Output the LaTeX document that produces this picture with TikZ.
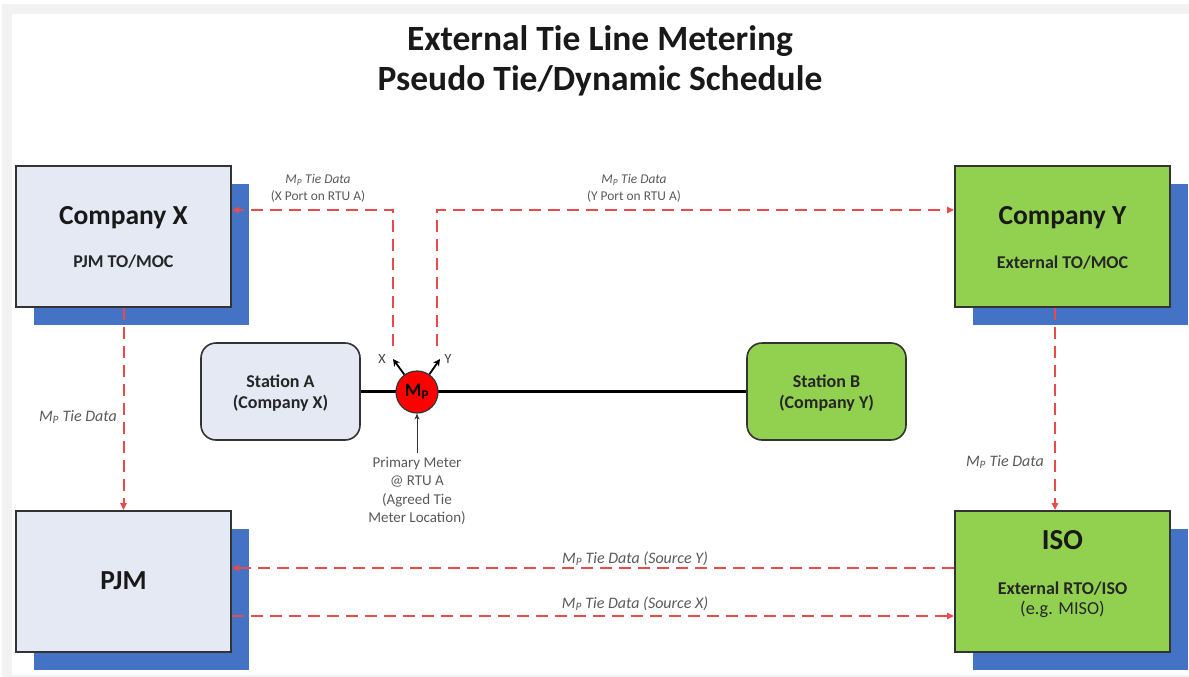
\documentclass[tikz,border=0pt]{standalone}
\usepackage{fontspec}
\setmainfont{Carlito}
\usetikzlibrary{arrows.meta,shadows}
\definecolor{lightbox}{HTML}{E4E9F4}
\definecolor{greenbox}{HTML}{92D050}
\definecolor{shblue}{HTML}{4472C4}
\definecolor{edgegray}{HTML}{333333}
\definecolor{dashred}{HTML}{E94A4A}
\definecolor{labgray}{HTML}{5A5A5A}
\definecolor{framegray}{HTML}{F2F2F2}
\newcommand\MPsub{M\textsubscript{P}}
\begin{document}
\begin{tikzpicture}[x=1pt,y=-1pt,
  bigbox/.style={draw=edgegray, line width=1.6pt, minimum width=215pt, minimum height=141pt, inner sep=0pt,
    drop shadow={shadow xshift=18pt, shadow yshift=-18pt, fill=shblue, opacity=1}},
  stationbox/.style={draw=edgegray, line width=1.6pt, rounded corners=15pt, minimum width=159pt, minimum height=97pt, inner sep=0pt},
  boxtitle/.style={anchor=base, inner sep=0pt, font=\bfseries\fontsize{27.5}{32}\selectfont, text=black!90},
  boxsub/.style={anchor=base, inner sep=0pt, font=\bfseries\fontsize{18}{21}\selectfont, text=black!85},
  stationtxt/.style={anchor=base, inner sep=0pt, font=\bfseries\fontsize{18}{21}\selectfont, text=black!85},
  dl/.style={draw=dashred, line width=2pt, dash pattern=on 12pt off 7pt},
  rtip/.style={-{Triangle[length=7pt,width=6pt]}},
  toplab/.style={align=center, inner sep=0pt, anchor=base, font=\fontsize{13.4}{17}\selectfont, text=labgray},
  sidelab/.style={inner sep=0pt, font=\itshape\fontsize{16}{19}\selectfont, text=labgray}
]
\useasboundingbox (0,0) rectangle (1189,677);
\fill[framegray] (2,4) rectangle (1189,677);
\fill[white] (12,14) rectangle (1189,675);

% title
\node[anchor=base, inner sep=0pt, font=\bfseries\fontsize{35.5}{40}\selectfont, text=black!90] (t1) at (600,51) {External Tie Line Metering};
\node[anchor=base, inner sep=0pt, font=\bfseries\fontsize{35.5}{40}\selectfont, text=black!90] (t2) at (600,90) {Pseudo Tie/Dynamic Schedule};

% big boxes
\node[bigbox, fill=lightbox] (cx) at (123.5,236.5) {};
\node[bigbox, fill=greenbox] (cy) at (1062.5,236.5) {};
\node[bigbox, fill=lightbox] (pjm) at (123.5,581.5) {};
\node[bigbox, fill=greenbox] (iso) at (1062.5,581.5) {};

\node[boxtitle] (cxt) at (123.5,224) {Company X};
\node[boxsub] (cxs) at (123.5,267) {PJM TO/MOC};
\node[boxtitle] (cyt) at (1062.5,224) {Company Y};
\node[boxsub] (cys) at (1062.5,268) {External TO/MOC};
\node[boxtitle] (pjmt) at (123.5,589) {PJM};
\node[boxtitle, font=\bfseries\fontsize{29}{34}\selectfont] (isot) at (1062.5,549) {ISO};
\node[boxsub] (isos) at (1062.5,594) {External RTO/ISO};
\node[boxsub, font=\fontsize{18.3}{21}\selectfont] (isoe) at (1062.5,614) {(e.g. MISO)};

% stations
\node[stationbox, fill=lightbox] (sa) at (280.5,391.5) {};
\node[stationbox, fill=greenbox] (sb) at (826.5,391.5) {};
\node[stationtxt] (sat1) at (280.5,387) {Station A};
\node[stationtxt] (sat2) at (280.5,408) {(Company X)};
\node[stationtxt] (sbt1) at (826.5,387) {Station B};
\node[stationtxt] (sbt2) at (826.5,408) {(Company Y)};

% tie line
\draw[line width=3pt, black] (sa.east) -- (sb.west);

% meter
\node[circle, fill=red, draw=edgegray, line width=1.2pt, minimum size=42pt, inner sep=0pt,
      font=\bfseries\fontsize{19}{21}\selectfont] (mp) at (417,392) {\MPsub};
\coordinate (xt) at (393,359);
\coordinate (yt) at (440,359);
\draw[line width=1.8pt, -{Stealth[length=7pt,width=7pt]}] (mp.126) -- (xt);
\draw[line width=1.8pt, -{Stealth[length=7pt,width=7pt]}] (mp.55) -- (yt);
\node[inner sep=0pt, anchor=base, font=\fontsize{14}{16}\selectfont, text=black!75] (xl) at (382,363) {X};
\node[inner sep=0pt, anchor=base, font=\fontsize{14}{16}\selectfont, text=black!75] (yl) at (448,363) {Y};

\node[align=center, inner sep=0pt, anchor=north, font=\fontsize{15}{18.3}\selectfont, text=labgray] (pmt) at (417,457)
  {Primary Meter\\@ RTU A\\(Agreed Tie\\Meter Location)};
\draw[line width=1pt, draw=black!80, -{Stealth[length=6pt,width=5pt]}] ([yshift=4pt]pmt.north) -- (mp.south);

% port data lines
\coordinate (xup) at (393,346);
\coordinate (xc) at (393,210);
\coordinate (yup) at (437,346);
\coordinate (yc) at (437,210);
\draw[dl, rtip] (xup) -- (xc) -- (xc -| cx.east);
\draw[dl, rtip] (yup) -- (yc) -- (yc -| cy.west);
\node[toplab] (xlab) at (318,200) {\itshape \MPsub{} Tie Data\\(X Port on RTU A)};
\node[toplab] (ylab) at (634,200) {\itshape \MPsub{} Tie Data\\(Y Port on RTU A)};

% vertical data lines
\draw[dl, rtip] (cx.south) -- (pjm.north);
\draw[dl, rtip] ([xshift=-7.5pt]cy.south) -- ([xshift=-7.5pt]iso.north);
\node[sidelab, anchor=base east] (lpl) at (117,421) {\MPsub{} Tie Data};
\node[sidelab, anchor=base east] (rpl) at (1044,466) {\MPsub{} Tie Data};

% bottom data lines
\draw[dl, rtip] (iso.west |- 0,568) -- (pjm.east |- 0,568);
\draw[dl, rtip] (pjm.east |- 0,616) -- (iso.west |- 0,616);
\node[sidelab, anchor=base] (bl1) at (635,563) {\MPsub{} Tie Data (Source Y)};
\node[sidelab, anchor=base] (bl2) at (635,608) {\MPsub{} Tie Data (Source X)};
\end{tikzpicture}
\end{document}
